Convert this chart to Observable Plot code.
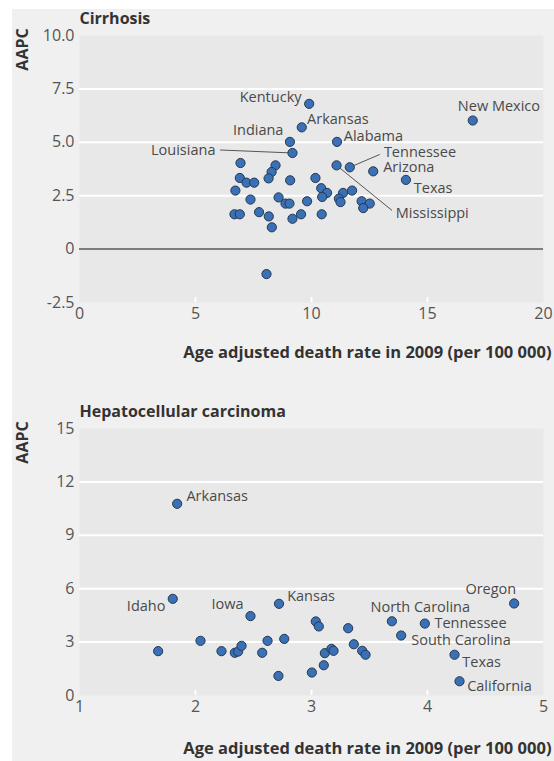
<!DOCTYPE html>
<html><head><meta charset="utf-8">
<script src="https://cdn.jsdelivr.net/npm/d3@7"></script>
<script src="https://cdn.jsdelivr.net/npm/@observablehq/plot@0.6"></script>
<style>
html,body{margin:0;padding:0;background:#fff;}
#wrap{position:absolute;left:12px;top:9px;width:542px;height:752px;background:#f0f0f0;}
#wrap svg{display:block;}
</style></head><body><div id="wrap"></div>
<script>
// ---- Cirrhosis ----
const cirrStates = ["Kentucky","Arkansas","Indiana","Louisiana","Alabama","New Mexico","Tennessee","Mississippi","Arizona","Texas",
  "","","","","","","","","","","","","","","","","","","","","","","","","","","","","","","","","",""];
const cirrRate = [9.9,9.58,9.07,9.18,11.1,16.95,11.65,11.08,12.66,14.07,
  6.94,8.45,8.28,6.91,7.2,7.53,8.15,9.08,10.17,10.42,10.67,10.46,6.72,7.37,8.58,8.88,9.05,9.81,6.68,6.91,7.74,8.16,8.29,9.18,9.55,10.44,11.36,11.75,11.18,11.25,12.16,12.51,12.23,8.06];
const cirrAAPC = [6.8,5.7,5.02,4.5,5.02,6.02,3.83,3.92,3.64,3.24,
  4.03,3.92,3.61,3.33,3.11,3.11,3.31,3.22,3.33,2.85,2.63,2.44,2.74,2.32,2.42,2.13,2.13,2.24,1.63,1.63,1.73,1.53,1.02,1.42,1.63,1.63,2.63,2.74,2.36,2.2,2.24,2.13,1.92,-1.17];
const cirrXTicks = [0,5,10,15,20];
const cirrXTickLabels = ["0","5","10","15","20"];
const cirrYTicks = [-2.5,0,2.5,5,7.5,10];
const cirrYTickLabels = ["-2.5","0","2.5","5.0","7.5","10.0"];
// label placement (data units)
const cirrLabelName = ["Kentucky","Arkansas","Indiana","Alabama","New Mexico","Louisiana","Tennessee","Arizona","Texas","Mississippi"];
const cirrLabelX = [9.57,9.81,8.79,11.39,19.85,5.86,13.12,13.09,14.41,13.63];
const cirrLabelY = [7.09,6.08,5.56,5.3,6.69,4.63,4.55,3.84,2.86,1.69];
const cirrLabelAnchor = ["end","start","end","start","end","end","start","start","start","start"];
const cirrLeaderName = ["Louisiana","Tennessee","Mississippi"];
const cirrLeaderX = [6.06,12.94,13.47];
const cirrLeaderY = [4.64,4.43,1.81];

// ---- Hepatocellular carcinoma ----
const hccStates = ["Arkansas","Idaho","Iowa","Kansas","North Carolina","Oregon","Tennessee","South Carolina","Texas","California",
  "","","","","","","","","","","","","","","","","","","","",""];
const hccRate = [1.842,1.804,2.474,2.72,3.693,4.747,3.977,3.773,4.233,4.276,
  1.678,2.043,2.224,2.339,2.368,2.397,2.575,2.621,2.765,2.715,3.037,3.063,3.115,3.172,3.19,3.106,3.003,3.316,3.365,3.437,3.466];
const hccAAPC = [10.77,5.43,4.46,5.15,4.17,5.17,4.04,3.37,2.29,0.8,
  2.49,3.07,2.49,2.4,2.47,2.79,2.4,3.07,3.18,1.1,4.16,3.88,2.38,2.62,2.51,1.7,1.29,3.78,2.88,2.51,2.29];
const hccXTicks = [1,2,3,4,5];
const hccXTickLabels = ["1","2","3","4","5"];
const hccYTicks = [0,3,6,9,12,15];
const hccYTickLabels = ["0","3","6","9","12","15"];
const hccLabelName = ["Arkansas","Idaho","Iowa","Kansas","North Carolina","Oregon","Tennessee","South Carolina","Texas","California"];
const hccLabelX = [1.922,1.741,2.414,2.79,3.509,4.765,4.06,3.86,4.30,4.342];
const hccLabelY = [11.2,5.02,5.1,5.58,4.93,5.96,4.03,3.09,1.87,0.51];
const hccLabelAnchor = ["start","end","end","start","start","end","start","start","start","start"];

const xTitle = "Age adjusted death rate in 2009 (per 100 000)";

function build(cfg) {
  const pts = cfg.rate.map((r, i) => ({x: r, y: cfg.aapc[i], s: cfg.states[i]}));
  const labels = cfg.labelName.map((n, i) => ({text: n, x: cfg.labelX[i], y: cfg.labelY[i], a: cfg.labelAnchor[i]}));
  const leaders = (cfg.leaderName || []).map((n, i) => {
    const p = pts.find(d => d.s === n);
    return {x1: cfg.leaderX[i], y1: cfg.leaderY[i], x2: p.x, y2: p.y};
  });
  const plotH = cfg.height - cfg.marginTop - cfg.marginBottom;
  const yGrid = cfg.yTicks.filter(v => v > cfg.yDomain[0] && v < cfg.yDomain[1] && v !== 0);
  const xInner = cfg.xTicks.filter(v => v > cfg.xDomain[0] && v < cfg.xDomain[1]);
  const marks = [
    Plot.frame({fill: "#e8e8e8", stroke: null}),
    Plot.ruleY(yGrid, {stroke: "#fff", strokeWidth: 2}),
    Plot.ruleX(xInner, {stroke: "#fff", strokeWidth: 2, insetTop: plotH - 5}),
  ];
  if (cfg.yDomain[0] < 0) marks.push(Plot.ruleY([0], {stroke: "#5a5a5a", strokeWidth: 1.5}));
  marks.push(
    Plot.axisY({ticks: cfg.yTicks, tickSize: 0, tickPadding: 5, tickFormat: v => cfg.yTickLabels[cfg.yTicks.indexOf(v)], label: null, fontSize: 16, fill: "#555"}),
    Plot.axisX({ticks: cfg.xTicks, tickSize: 0, tickPadding: 5, tickFormat: v => cfg.xTickLabels[cfg.xTicks.indexOf(v)], label: null, fontSize: 16, fill: "#555"}),
    Plot.link(leaders, {x1: "x1", y1: "y1", x2: "x2", y2: "y2", stroke: "#555", strokeWidth: 1}),
    Plot.dot(pts, {x: "x", y: "y", r: 4.6, fill: "#3a70b6", stroke: "#263850", strokeWidth: 1}),
    Plot.text(labels.filter(d => d.a === "start"), {x: "x", y: "y", text: "text", textAnchor: "start", lineAnchor: "middle", fontSize: 14.5, fill: "#4a4a4a"}),
    Plot.text(labels.filter(d => d.a === "end"), {x: "x", y: "y", text: "text", textAnchor: "end", lineAnchor: "middle", fontSize: 14.5, fill: "#4a4a4a"}),
    Plot.text([cfg.title], {frameAnchor: "top-left", dy: -17, textAnchor: "start", lineAnchor: "middle", fontSize: 16, fontWeight: "bold", fill: "#333"}),
    Plot.text(["AAPC"], {frameAnchor: "top-left", dx: -57, dy: 14, rotate: -90, textAnchor: "middle", lineAnchor: "middle", fontSize: 16, fontWeight: "bold", fill: "#333"}),
    Plot.text([xTitle], {frameAnchor: "bottom-right", dx: 8, dy: cfg.xTitleDy, textAnchor: "end", lineAnchor: "middle", fontSize: 16.5, fontWeight: "bold", fill: "#333"})
  );
  return Plot.plot({
    width: 542, height: cfg.height,
    marginLeft: 67, marginRight: 11, marginTop: cfg.marginTop, marginBottom: cfg.marginBottom,
    x: {domain: cfg.xDomain},
    y: {domain: cfg.yDomain},
    style: {background: "transparent", fontFamily: "'Open Sans', sans-serif", fontSize: "14px", color: "#444", overflow: "visible"},
    marks
  });
}

const wrap = document.getElementById("wrap");
wrap.append(build({
  rate: cirrRate, aapc: cirrAAPC, states: cirrStates,
  labelName: cirrLabelName, labelX: cirrLabelX, labelY: cirrLabelY, labelAnchor: cirrLabelAnchor,
  leaderName: cirrLeaderName, leaderX: cirrLeaderX, leaderY: cirrLeaderY,
  xDomain: [0, 20], yDomain: [-2.5, 10], xTicks: cirrXTicks, xTickLabels: cirrXTickLabels, yTicks: cirrYTicks, yTickLabels: cirrYTickLabels,
  title: "Cirrhosis", height: 386, marginTop: 26, marginBottom: 93, xTitleDy: 50
}));
wrap.append(build({
  rate: hccRate, aapc: hccAAPC, states: hccStates,
  labelName: hccLabelName, labelX: hccLabelX, labelY: hccLabelY, labelAnchor: hccLabelAnchor,
  xDomain: [1, 5], yDomain: [0, 15], xTicks: hccXTicks, xTickLabels: hccXTickLabels, yTicks: hccYTicks, yTickLabels: hccYTickLabels,
  title: "Hepatocellular carcinoma", height: 366, marginTop: 33, marginBottom: 66, xTitleDy: 53
}));
</script></body></html>
